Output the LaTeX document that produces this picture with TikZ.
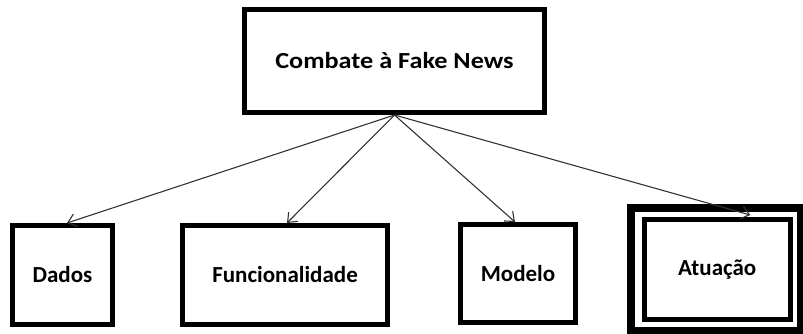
\documentclass[tikz,border=0pt]{standalone}
\usepackage{fontspec}
\setmainfont{Carlito}
\usetikzlibrary{arrows.meta}

\tikzset{
  box/.style={draw=black, line width=5bp, rectangle, inner sep=0pt,
    font=\fontsize{23bp}{27bp}\selectfont\bfseries},
  frame/.style={draw=black, line width=8bp, rectangle, inner sep=0pt},
  link/.style={draw=black!80, line width=1.1bp,
    -{Straight Barb[length=8bp,width=13bp,line width=1.1bp]}}
}

\begin{document}
\begin{tikzpicture}[x=1bp,y=-1bp]
  \useasboundingbox (0,0) rectangle (803,333);
  \clip (0,0) rectangle (803,333);

  % root topic
  \node[box, minimum width=300bp, minimum height=103bp] (root) at (394.5,61) {\scalebox{1.14}[1]{Combate à Fake News}};

  % sub-topics
  \node[box, minimum width=100bp, minimum height=99bp] (dados) at (62.5,275) {Dados};
  \node[box, minimum width=205bp, minimum height=99bp] (func) at (285,275) {Funcionalidade};
  \node[box, minimum width=115bp, minimum height=98bp] (modelo) at (518,273.5) {Modelo};
  \node[frame, minimum width=170bp, minimum height=123.5bp] (atuframe) at (716,269.25) {};
  \node[box, minimum width=145.5bp, minimum height=100bp] (atuacao) at (717.25,269.5) {Atuação};

  % connectors
  \draw[link] (root.south) -- ([xshift=4.5bp]dados.north);
  \draw[link] (root.south) -- ([xshift=2bp]func.north);
  \draw[link] (root.south) -- ([xshift=-3bp]modelo.north);
  \draw[link] (root.south) -- ([xshift=33bp,yshift=2bp]atuacao.north);
\end{tikzpicture}
\end{document}
